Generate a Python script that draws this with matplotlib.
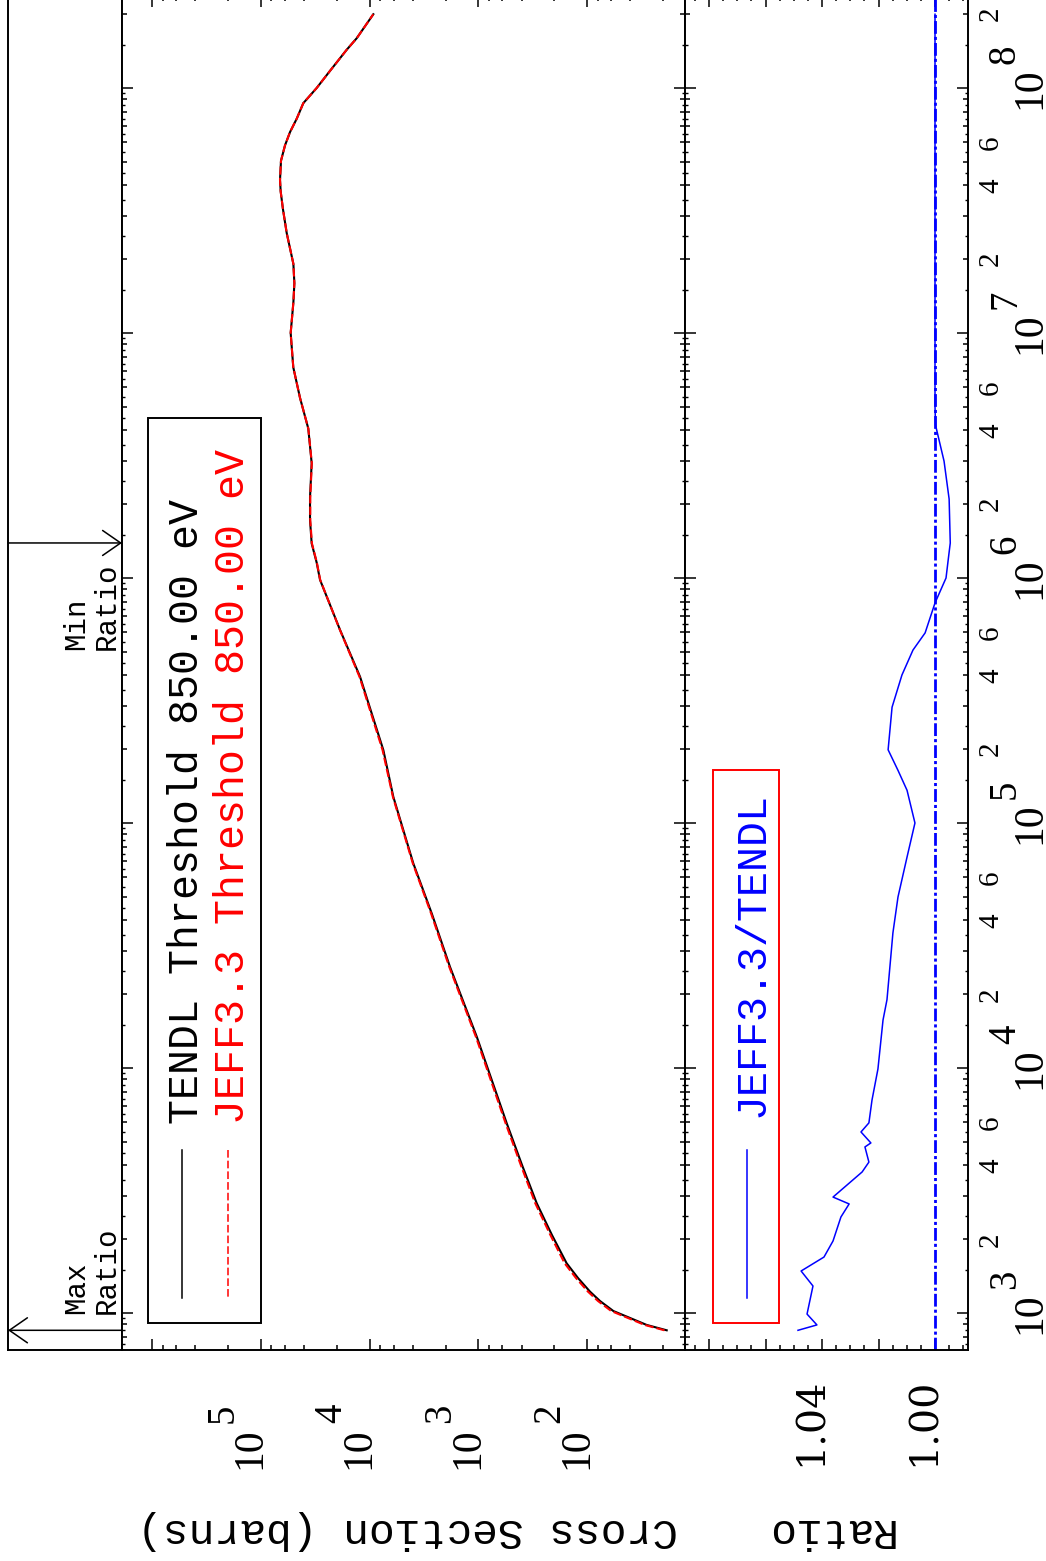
import numpy as np
import matplotlib
matplotlib.use("Agg")
import matplotlib.pyplot as plt
from matplotlib import transforms
from matplotlib.ticker import LogLocator, MultipleLocator, NullLocator, NullFormatter
from matplotlib.patches import Rectangle
from matplotlib.lines import Line2D

# ---------------- data ----------------
tendl_energy = [850, 894, 942, 1019, 1119, 1222, 1389, 1596, 2080, 2805, 4018, 5943,
                13430, 25880, 42760, 68390, 127900, 198600, 395100, 613800, 982600,
                1156000, 1384000, 1722000, 2133000, 2944000, 4074000, 5433000,
                7244000, 1.0e7, 1.334e7, 1.596e7, 1.914e7, 2.553e7, 3.200e7, 3.784e7,
                4.217e7, 5.047e7, 5.834e7, 6.607e7, 7.499e7, 8.670e7, 1.0e8,
                1.175e8, 1.432e8, 1.596e8, 2.0e8]
tendl_xs = [18.5, 28.3, 37.5, 57.3, 75.9, 93.8, 121, 154, 210, 290, 396, 547,
            1033, 1820, 2679, 3955, 6040, 7465, 12210, 18660, 28510,
            30620, 34040, 35240, 35240, 34040, 36560, 43550,
            50230, 53090, 50120, 49090, 50120, 57680, 62500, 65610,
            66530, 65160, 59840, 53830, 46670, 40640, 30620,
            23070, 16220, 13120, 9226]

jeff_energy = tendl_energy
jeff_xs = [19.4, 29.5, 39.2, 59.9, 79.2, 97.9, 126.3, 160.6, 217.0, 299.0, 406.3, 559.9,
           1052.6, 1849, 2716.5, 3996, 6096, 7589, 12355, 18716, 28407,
           30482, 33856, 35057, 35064, 33928, 36542, 43550,
           50230, 53090, 50120, 49090, 50120, 57680, 62500, 65610,
           66530, 65160, 59840, 53830, 46670, 40640, 30620,
           23070, 16220, 13120, 9226]

ratio_energy = [850, 894, 990, 1289, 1484, 1692, 1968, 2466, 2787, 2973, 3764,
                4130, 4762, 4945, 5482, 5970, 7400, 9910, 15700, 19000, 35600,
                49900, 72600, 100000, 136000, 164000, 199000, 297000, 402000,
                508000, 597000, 791000, 1000000, 1220000, 1390000, 2100000,
                3000000, 4200000, 5000000, 2.0e8]
ratio_value = [1.0485, 1.0418, 1.0453, 1.0432, 1.0474, 1.0393, 1.0361, 1.0333,
               1.0304, 1.0361, 1.0258, 1.0234, 1.0248, 1.0227, 1.0262, 1.0234,
               1.0223, 1.0202, 1.0184, 1.0170, 1.0149, 1.0131, 1.0099, 1.0071,
               1.0099, 1.0131, 1.0166, 1.0152, 1.0117, 1.0078, 1.0035, 1.0000,
               0.9961, 0.9952, 0.9946, 0.9950, 0.9968, 0.9998, 1.0000, 1.0000]

xs_label_exponents = [2, 3, 4, 5]
ratio_tick_labels = [1.00, 1.04]
energy_label_exponents = [3, 4, 5, 6, 7, 8]
energy_minor_labels = [2, 4, 6]
legend_main = ["TENDL Threshold 850.00 eV", "JEFF3.3 Threshold 850.00 eV"]
legend_ratio = "JEFF3.3/TENDL"
ylabel_main = "Cross Section (barns)"
ylabel_ratio = "Ratio"

# ---------------- layout ----------------
W, H, DPI = 1046, 1561, 100
plt.rcParams['font.family'] = ['Liberation Mono', 'DejaVu Sans']
fig = plt.figure(figsize=(W / DPI, H / DPI), dpi=DPI)


def fx(px):
    return px / W


def fy(py):
    return 1 - py / H


def rect(x0, x1, ytop, ybot):
    return [x0 / W, (H - ybot) / H, (x1 - x0) / W, (ybot - ytop) / H]


Y_TOP, Y_BOT = -4, 1350
E_LIM = (10 ** 2.849, 10 ** 8.3755)
XS_LIM = (10 ** 6.276, 10 ** 1.099)
R_LIM = (1.0885, 0.98832)
SPINE_LW = 1.4

ax_s = fig.add_axes(rect(8, 122, Y_TOP, Y_BOT))
ax_m = fig.add_axes(rect(122, 685, Y_TOP, Y_BOT))
ax_r = fig.add_axes(rect(685, 968, Y_TOP, Y_BOT))

for a in (ax_s, ax_m, ax_r):
    a.set_yscale('log')
    a.set_ylim(*E_LIM)
    for sp in a.spines.values():
        sp.set_linewidth(SPINE_LW)

# strip with max / min ratio arrows
ax_s.set_xlim(0, 1)
ax_s.xaxis.set_major_locator(NullLocator())
ax_s.yaxis.set_major_locator(NullLocator())
ax_s.yaxis.set_minor_locator(NullLocator())

# main panel
ax_m.set_xscale('log')
ax_m.set_xlim(*XS_LIM)
ax_m.xaxis.set_major_locator(LogLocator(base=10, numticks=50))
ax_m.xaxis.set_minor_locator(LogLocator(base=10, subs=[2, 4, 6, 8], numticks=50))
for a in (ax_m, ax_r):
    a.yaxis.set_major_locator(LogLocator(base=10, numticks=50))
    a.yaxis.set_minor_locator(LogLocator(base=10, subs=np.arange(2, 10), numticks=50))
    a.xaxis.set_minor_formatter(NullFormatter())
    a.yaxis.set_minor_formatter(NullFormatter())
    a.tick_params(axis='both', which='major', direction='in', length=7.9, width=1.1,
                  top=True, bottom=True, left=True, right=True,
                  labelbottom=False, labelleft=False, labeltop=False, labelright=False)
    a.tick_params(axis='both', which='minor', direction='in', length=3.8, width=1.1,
                  top=True, bottom=True, left=True, right=True)

# ratio panel
ax_r.set_xlim(*R_LIM)
ax_r.xaxis.set_major_locator(MultipleLocator(0.02))
ax_r.xaxis.set_minor_locator(MultipleLocator(0.005))

# finer half-step energy ticks
for x0, x1 in ((122, 685), (685, 968)):
    sub = fig.add_axes(rect(x0, x1, Y_TOP, Y_BOT), frameon=False)
    sub.patch.set_visible(False)
    sub.set_yscale('log')
    sub.set_ylim(*E_LIM)
    sub.xaxis.set_major_locator(NullLocator())
    sub.yaxis.set_major_locator(NullLocator())
    sub.yaxis.set_minor_locator(LogLocator(base=10, subs=np.arange(1.5, 10, 1.0), numticks=50))
    sub.yaxis.set_minor_formatter(NullFormatter())
    sub.tick_params(axis='y', which='minor', direction='in', length=2.3, width=1.0,
                    left=True, right=True, labelleft=False)

# ---------------- curves ----------------
ax_m.plot(tendl_xs, tendl_energy, color='black', lw=1.5, zorder=3)
ax_m.plot(jeff_xs, jeff_energy, color='red', lw=1.5, dashes=(4, 1.5), zorder=4)

ax_r.axvline(1.0, color='blue', lw=2.0, linestyle=(0, (4.6, 1.1, 1.1, 1.1)), zorder=2)
ax_r.plot(ratio_value, ratio_energy, color='blue', lw=1.1, zorder=3)

# ---------------- max / min ratio arrows ----------------
rv = np.array(ratio_value)
e_max = ratio_energy[int(np.argmax(rv))]
e_min = ratio_energy[int(np.argmin(rv))]
arrow_kw = dict(arrowstyle='->,head_length=0.65,head_width=0.45', lw=1.1, color='black',
                shrinkA=0, shrinkB=0, mutation_scale=20)
ax_s.annotate('', xy=(0, e_max), xycoords=('axes fraction', 'data'),
              xytext=(1, e_max), textcoords=('axes fraction', 'data'), arrowprops=arrow_kw)
ax_s.annotate('', xy=(1, e_min), xycoords=('axes fraction', 'data'),
              xytext=(0, e_min), textcoords=('axes fraction', 'data'), arrowprops=arrow_kw)
ax_s.annotate('Max\nRatio', xy=(0.985, e_max), xycoords=('axes fraction', 'data'),
              xytext=(0, 16), textcoords='offset pixels', rotation=90,
              ha='right', va='bottom', multialignment='left', fontsize=21, linespacing=1.1)
ax_s.annotate('Min\nRatio', xy=(0.985, e_min), xycoords=('axes fraction', 'data'),
              xytext=(0, -20), textcoords='offset pixels', rotation=90,
              ha='right', va='top', multialignment='left', fontsize=21, linespacing=1.1)

# ---------------- tick labels ----------------
serif = 'Liberation Serif'
tr_xs = transforms.blended_transform_factory(ax_m.transData, fig.transFigure)
tr_xs_sup = transforms.offset_copy(tr_xs, fig=fig, x=-28, y=35, units='dots')
for k in xs_label_exponents:
    fig.text(10 ** k, fy(1448), '10', transform=tr_xs, rotation=90, rotation_mode='anchor',
             ha='center', va='baseline', fontsize=30, family=serif)
    fig.text(10 ** k, fy(1448), str(k), transform=tr_xs_sup, rotation=90, rotation_mode='anchor',
             ha='center', va='baseline', fontsize=28, family=serif)

tr_r = transforms.blended_transform_factory(ax_r.transData, fig.transFigure)
for v in ratio_tick_labels:
    fig.text(v, fy(1422), f'{v:.2f}', transform=tr_r, rotation=90, rotation_mode='anchor',
             ha='center', va='baseline', fontsize=28.5, family='DejaVu Serif')

tr_e = transforms.blended_transform_factory(fig.transFigure, ax_r.transData)
tr_e_sup = transforms.offset_copy(tr_e, fig=fig, x=0, y=34, units='dots')
for k in energy_label_exponents:
    fig.text(fx(1040), 10 ** k, '10', transform=tr_e, rotation=90, rotation_mode='anchor',
             ha='center', va='baseline', fontsize=30, family=serif)
    fig.text(fx(1015), 10 ** k, str(k), transform=tr_e_sup, rotation=90, rotation_mode='anchor',
             ha='center', va='baseline', fontsize=28, family=serif)
    for m in energy_minor_labels:
        e = m * 10 ** k
        if e <= E_LIM[1]:
            fig.text(fx(998), e, str(m), transform=tr_e, rotation=90, rotation_mode='anchor',
                     ha='center', va='baseline', fontsize=21, family=serif)

# axis titles
fig.text(fx(408), fy(1530), ylabel_main, rotation=180, ha='center', va='center', fontsize=31)
fig.text(fx(828), fy(1530), ylabel_ratio, rotation=180, ha='center', va='center', fontsize=31)


# ---------------- legends (drawn by hand, rotated) ----------------
def afrac(ax, px, py, x0, x1):
    return (px - x0) / (x1 - x0), (Y_BOT - py) / (Y_BOT - Y_TOP)


def box(ax, x0, x1, px0, px1, py0, py1, color):
    (a0, b0) = afrac(ax, px0, py1, x0, x1)
    (a1, b1) = afrac(ax, px1, py0, x0, x1)
    ax.add_patch(Rectangle((a0, b0), a1 - a0, b1 - b0, transform=ax.transAxes,
                           fill=False, edgecolor=color, lw=1.4, zorder=5))


def sample(ax, x0, x1, px, py0, py1, **kw):
    a, b0 = afrac(ax, px, py0, x0, x1)
    _, b1 = afrac(ax, px, py1, x0, x1)
    ax.add_line(Line2D([a, a], [b0, b1], transform=ax.transAxes, zorder=5, **kw))


box(ax_m, 122, 685, 148, 261, 418, 1323, 'black')
sample(ax_m, 122, 685, 182, 1150, 1298, color='black', lw=1.1)
sample(ax_m, 122, 685, 228, 1150, 1298, color='red', lw=1.1, dashes=(5, 2))
for txt, col, bx in ((legend_main[0], 'black', 198), (legend_main[1], 'red', 244)):
    a, b = afrac(ax_m, bx, 1124, 122, 685)
    ax_m.text(a, b, txt, transform=ax_m.transAxes, rotation=90, rotation_mode='anchor',
              ha='left', va='baseline', fontsize=30, color=col, zorder=6)

box(ax_r, 685, 968, 713, 779, 770, 1323, 'red')
sample(ax_r, 685, 968, 747, 1150, 1298, color='blue', lw=1.1)
a, b = afrac(ax_r, 763, 1117, 685, 968)
ax_r.text(a, b, legend_ratio, transform=ax_r.transAxes, rotation=90, rotation_mode='anchor',
          ha='left', va='baseline', fontsize=30, color='blue', zorder=6)

fig.savefig('out.png', dpi=DPI)
